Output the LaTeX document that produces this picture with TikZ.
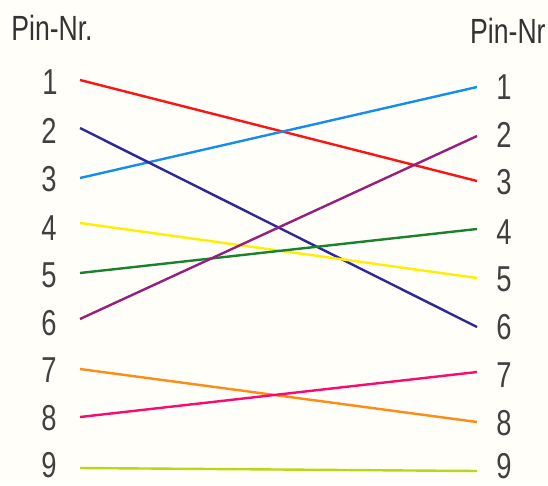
\documentclass[tikz,border=0pt]{standalone}
\usepackage{fontspec}
\setmainfont[FakeStretch=0.76]{Liberation Sans}
\usetikzlibrary{positioning}

\definecolor{paper}{RGB}{255,254,249}
\definecolor{pinred}{RGB}{250,20,20}
\definecolor{pinsky}{RGB}{20,140,240}
\definecolor{pinnavy}{RGB}{45,40,150}
\definecolor{pinyellow}{RGB}{255,238,0}
\definecolor{pingreen}{RGB}{25,130,45}
\definecolor{pinpurple}{RGB}{150,30,125}
\definecolor{pinorange}{RGB}{252,140,20}
\definecolor{pinpink}{RGB}{250,10,110}
\definecolor{pinlime}{RGB}{185,215,20}

\begin{document}
\begin{tikzpicture}[
    x=1pt, y=-1pt,
    num/.style={inner sep=0pt, font=\fontsize{36}{40}\selectfont, text=black!75},
    head/.style={inner sep=0pt, font=\fontsize{35}{40}\selectfont, text=black!80},
    wire/.style={line width=2.4pt}
  ]
    \fill[paper] (0,0) rectangle (548,485);
    \useasboundingbox (0,0) rectangle (548,485);

    % headings
    \node[head] (headL) at (52,28) {Pin-Nr.};
    \node[head, anchor=west] (headR) at (470,31) {Pin-Nr};

    % left pins
    \node[num] (L1) at (50,82) {1};
    \node[num] (L2) at (49,131) {2};
    \node[num] (L3) at (49,179) {3};
    \node[num] (L4) at (49,228) {4};
    \node[num] (L5) at (49,275) {5};
    \node[num] (L6) at (49,323) {6};
    \node[num] (L7) at (49,370) {7};
    \node[num] (L8) at (49,418) {8};
    \node[num] (L9) at (49,465) {9};

    % right pins
    \node[num] (R1) at (504,87) {1};
    \node[num] (R2) at (504,135) {2};
    \node[num] (R3) at (504,182) {3};
    \node[num] (R4) at (504,232) {4};
    \node[num] (R5) at (504,279) {5};
    \node[num] (R6) at (504,327) {6};
    \node[num] (R7) at (504,375) {7};
    \node[num] (R8) at (504,423) {8};
    \node[num] (R9) at (504,466) {9};

    % wire ends
    \coordinate (a1) at (80,80);
    \coordinate (a2) at (80,128);
    \coordinate (a3) at (80,178);
    \coordinate (a4) at (80,223);
    \coordinate (a5) at (80,273);
    \coordinate (a6) at (80,319);
    \coordinate (a7) at (80,369);
    \coordinate (a8) at (80,417);
    \coordinate (a9) at (80,468);
    \coordinate (b1) at (477,87);
    \coordinate (b2) at (477,136);
    \coordinate (b3) at (477,181);
    \coordinate (b4) at (477,229);
    \coordinate (b5) at (477,278);
    \coordinate (b6) at (477,327);
    \coordinate (b7) at (477,372);
    \coordinate (b8) at (477,422);
    \coordinate (b9) at (477,471);

    % wiring
    \draw[wire, pinred] (a1) -- (b3);
    \draw[wire, pinsky] (a3) -- (b1);
    \draw[wire, pinnavy] (a2) -- (b6);
    \draw[wire, pinyellow] (a4) -- (b5);
    \draw[wire, pingreen] (a5) -- (b4);
    \draw[wire, pinpurple] (a6) -- (b2);
    \draw[wire, pinorange] (a7) -- (b8);
    \draw[wire, pinpink] (a8) -- (b7);
    \draw[wire, pinlime] (a9) -- (b9);
  \end{tikzpicture}
\end{document}
